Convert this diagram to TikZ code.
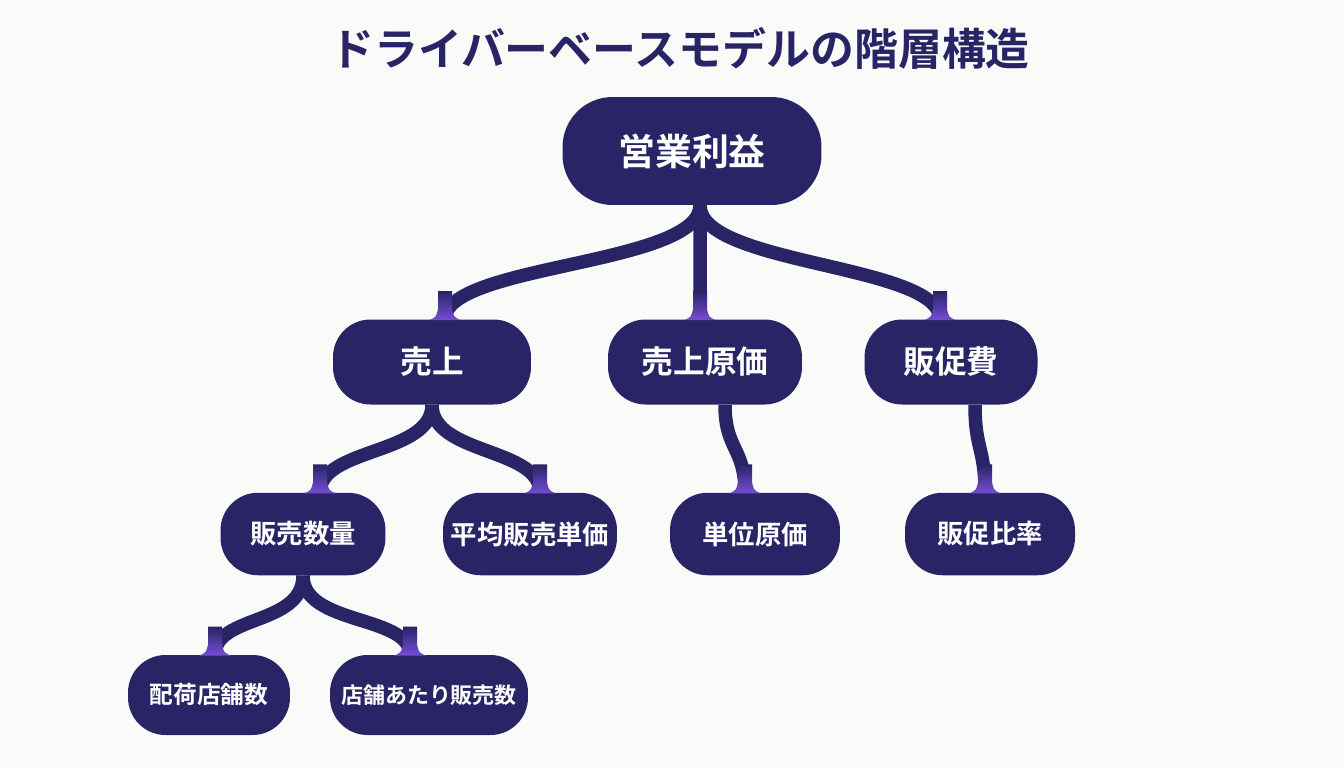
\documentclass[tikz,border=0pt]{standalone}
\usepackage{fontspec}
\newfontfamily\jpfont{Noto Sans CJK JP}[BoldFont={Noto Sans CJK JP Bold}]
\usetikzlibrary{positioning, calc}
\definecolor{drv_navy}{RGB}{40, 36, 102}
\definecolor{drv_purple}{RGB}{118, 78, 214}
\definecolor{drv_bg}{RGB}{250, 250, 248}
\begin{document}
\begin{tikzpicture}[x=0.02cm, y=-0.02cm,
    every node/.style={font=\jpfont\bfseries},
    box/.style={fill=drv_navy, text=white, rounded corners=0.75cm,
                minimum height=1.65cm, inner sep=0pt, font=\jpfont\bfseries\fontsize{15}{18}\selectfont},
    link/.style={drv_navy, line width=0.27cm},
    tip/.style={top color=drv_navy, bottom color=drv_purple},
  ]
  \fill[drv_bg] (0,0) rectangle (1344,768);
  \useasboundingbox (0,0) rectangle (1344,768);

  \node[font=\jpfont\bfseries\fontsize{25}{30}\selectfont, text=drv_navy] (title) at (680,48) {ドライバーベースモデルの階層構造};

  % nodes
  \node[box, minimum width=5.18cm, minimum height=2.16cm, rounded corners=1cm,
        font=\jpfont\bfseries\fontsize{21}{25}\selectfont] (profit) at (692,151) {営業利益};
  \node[box, minimum width=3.96cm, minimum height=1.7cm, font=\jpfont\bfseries\fontsize{18}{22}\selectfont] (sales)  at (432,362) {売上};
  \node[box, minimum width=3.88cm, minimum height=1.7cm, font=\jpfont\bfseries\fontsize{18}{22}\selectfont] (cogs)   at (705,362) {売上原価};
  \node[box, minimum width=3.46cm, minimum height=1.7cm, font=\jpfont\bfseries\fontsize{18}{22}\selectfont] (promo)  at (951,362) {販促費};
  \node[box, minimum width=3.3cm]  (volume) at (303,534) {販売数量};
  \node[box, minimum width=3.48cm] (price)  at (530,534) {平均販売単価};
  \node[box, minimum width=3.4cm]  (unitc)  at (755,534) {単位原価};
  \node[box, minimum width=3.4cm]  (ratio)  at (990,534) {販促比率};
  \node[box, minimum width=3.24cm, minimum height=1.6cm, font=\jpfont\bfseries\fontsize{13.5}{16}\selectfont] (stores) at (209,695) {配荷店舗数};
  \node[box, minimum width=3.96cm, minimum height=1.6cm, font=\jpfont\bfseries\fontsize{12.5}{15}\selectfont] (perst)  at (429,695) {店舗あたり販売数};

  % connectors
  \draw[link] ([xshift=0.16cm]profit.south) .. controls ++(0,60) and ++(0,-55) .. ([xshift=0.26cm]sales.north);
  \draw[link] ([xshift=0.16cm]profit.south) .. controls ++(0,40) and ++(0,-40) .. ([xshift=-0.1cm]cogs.north);
  \draw[link] ([xshift=0.16cm]profit.south) .. controls ++(0,60) and ++(0,-55) .. ([xshift=-0.22cm]promo.north);
  \draw[link] (sales.south) .. controls ++(0,50) and ++(0,-45) .. ([xshift=0.34cm]volume.north);
  \draw[link] (sales.south) .. controls ++(0,50) and ++(0,-45) .. ([xshift=0.2cm]price.north);
  \draw[link] ([xshift=0.4cm]cogs.south) .. controls ++(0,45) and ++(0,-45) .. ([xshift=-0.2cm]unitc.north);
  \draw[link] ([xshift=0.48cm]promo.south) .. controls ++(0,45) and ++(0,-45) .. ([xshift=-0.1cm]ratio.north);
  \draw[link] (volume.south) .. controls ++(0,50) and ++(0,-40) .. ([xshift=0.12cm]stores.north);
  \draw[link] (volume.south) .. controls ++(0,50) and ++(0,-40) .. ([xshift=-0.38cm]perst.north);

  % purple ends
  \foreach \n/\dx in {sales/13, cogs/-5, promo/-11, volume/17, price/10, unitc/-10, ratio/-5, stores/6, perst/-19}
    \shade[tip] ($(\n.north)+(\dx-7,-28)$) rectangle ($(\n.north)+(\dx+7,1)$)
      ($(\n.north)+(\dx-7,-10)$) .. controls ($(\n.north)+(\dx-9,-2)$) .. ($(\n.north)+(\dx-16,1)$)
      -- ($(\n.north)+(\dx+16,1)$) .. controls ($(\n.north)+(\dx+9,-2)$) .. ($(\n.north)+(\dx+7,-10)$) -- cycle;
\end{tikzpicture}
\end{document}
